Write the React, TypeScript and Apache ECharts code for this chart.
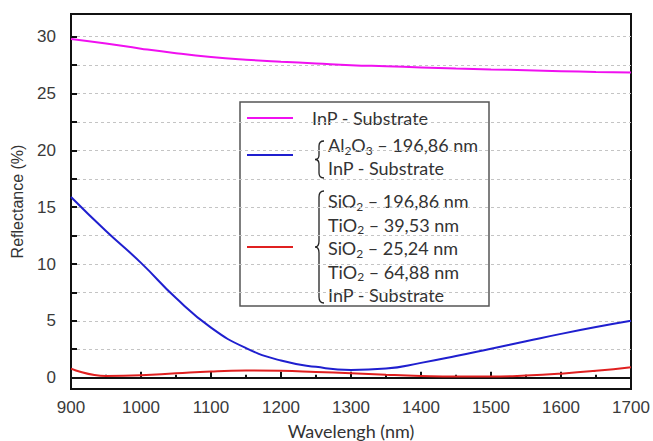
import React, { useEffect, useRef } from "react";
import * as echarts from "echarts";

const wavelengths = [900, 950, 1000, 1050, 1100, 1150, 1200, 1250, 1300, 1350, 1400, 1450, 1500, 1550, 1600, 1650, 1700];
const inpSubstrate = [29.8, 29.4, 28.95, 28.55, 28.22, 27.98, 27.8, 27.65, 27.5, 27.4, 27.3, 27.2, 27.12, 27.05, 26.97, 26.9, 26.85];
const al2o3Coating = [15.9, 12.9, 10.1, 7.0, 4.4, 2.6, 1.5, 0.95, 0.68, 0.8, 1.3, 1.9, 2.55, 3.2, 3.85, 4.45, 5.0];
const multiLayer = [0.8, 0.14, 0.2, 0.38, 0.55, 0.62, 0.6, 0.5, 0.38, 0.25, 0.15, 0.1, 0.1, 0.18, 0.35, 0.6, 0.92];

const yLabelValues = [0, 5, 10, 15, 20, 25, 30];
const yTickValues = [0, 2.5, 5, 7.5, 10, 12.5, 15, 17.5, 20, 22.5, 25, 27.5, 30];

const legendRed = ["SiO|2| – 196,86 nm", "TiO|2| – 39,53 nm", "SiO|2| – 25,24 nm", "TiO|2| – 64,88 nm", "InP - Substrate"];

const PINK = "#f010f0";
const BLUE = "#1f1fcf";
const RED = "#e02020";

const LEG_FONT = "Lato";
const AX_FONT = "'Liberation Sans', Arial, sans-serif";

function richText(s: string) {
  const parts = s.split("|");
  return parts
    .map((p, i) => (i % 2 === 1 ? `{s|${p}}` : p ? `{n|${p}}` : ""))
    .join("");
}

const rich = {
  n: { fontSize: 18, fontFamily: LEG_FONT, fill: "#333", lineHeight: 22 },
  s: { fontSize: 12, fontFamily: LEG_FONT, fill: "#333", lineHeight: 10, verticalAlign: "bottom" },
};

echarts.graphic.registerShape(
  "brace1",
  echarts.graphic.extendPath(
    "M 324 141 Q 319 141 319 146 L 319 155 Q 319 159.5 315 159.5 Q 319 159.5 319 164 L 319 173 Q 319 178 324 178",
    {}
  )
);
echarts.graphic.registerShape(
  "brace2",
  echarts.graphic.extendPath(
    "M 324 191 Q 319 191 319 197 L 319 241 Q 319 247 315 247 Q 319 247 319 253 L 319 297 Q 319 303 324 303",
    {}
  )
);

export default function App() {
  const ref = useRef<HTMLDivElement>(null);
  useEffect(() => {
    if (!ref.current) return;
    const chart = echarts.init(ref.current, null, { renderer: "svg" });
    const mk = (arr: number[]) => wavelengths.map((w, i) => [w, arr[i]]);
    const lineText = (text: string, x: number, y: number) => ({
      type: "text",
      x,
      y,
      style: {
        text: richText(text),
        rich,
        verticalAlign: "middle",
        align: "left",
      },
    });
    const option: any = {
      animation: false,
      backgroundColor: "#fff",
      grid: {
        left: 71,
        top: 14,
        right: 22,
        bottom: 52,
        show: true,
        borderColor: "#111",
        borderWidth: 2,
        outerBoundsMode: "none",
        containLabel: false,
      },
      xAxis: {
        type: "value",
        min: 900,
        max: 1700,
        interval: 100,
        name: "Wavelengh (nm)",
        nameLocation: "middle",
        nameGap: 33,
        nameTextStyle: { fontFamily: LEG_FONT, fontSize: 18, color: "#333" },
        axisLine: { lineStyle: { color: "#111", width: 2 } },
        axisTick: { inside: true, length: 6, lineStyle: { color: "#111", width: 2 } },
        minorTick: { show: true, splitNumber: 2, length: 3, lineStyle: { color: "#111", width: 2 } },
        axisLabel: {
          margin: 10,
          fontFamily: AX_FONT,
          fontSize: 17,
          color: "#3a3a3a",
          formatter: (v: number) => String(v),
        },
        splitLine: { show: false },
      },
      yAxis: {
        type: "value",
        min: -1,
        max: 32,
        name: "Reflectance (%)",
        nameLocation: "middle",
        nameGap: 46,
        nameTextStyle: { fontFamily: AX_FONT, fontSize: 16, color: "#333" },
        axisLine: { lineStyle: { color: "#111", width: 2 } },
        axisTick: {
          inside: true,
          length: 6,
          customValues: yTickValues,
          lineStyle: { color: "#111", width: 2 },
        },
        axisLabel: {
          margin: 15,
          customValues: yLabelValues,
          fontFamily: AX_FONT,
          fontSize: 17,
          color: "#3a3a3a",
          formatter: (v: number) => String(v),
        },
        splitLine: { show: true, lineStyle: { color: "#c4c4c4", width: 1, type: [3, 3] } },
      },
      series: [
        { type: "line", data: mk(inpSubstrate), smooth: 0.5, showSymbol: false, lineStyle: { color: PINK, width: 2 } },
        { type: "line", data: mk(al2o3Coating), smooth: 0.5, showSymbol: false, lineStyle: { color: BLUE, width: 2 } },
        { type: "line", data: mk(multiLayer), smooth: 0.5, showSymbol: false, lineStyle: { color: RED, width: 2 } },
      ],
      graphic: [
        {
          type: "group",
          z: 100,
          children: [
            { type: "rect", shape: { x: 240, y: 102, width: 249, height: 204 }, style: { fill: "#fff", stroke: "#555", lineWidth: 1.5 } },
            { type: "line", shape: { x1: 247, y1: 118, x2: 293, y2: 118 }, style: { stroke: PINK, lineWidth: 2 } },
            { type: "line", shape: { x1: 247, y1: 155, x2: 293, y2: 155 }, style: { stroke: BLUE, lineWidth: 2 } },
            { type: "line", shape: { x1: 247, y1: 247, x2: 293, y2: 247 }, style: { stroke: RED, lineWidth: 2 } },
            lineText("InP - Substrate", 312, 118),
            lineText("Al|2|O|3| – 196,86 nm", 328, 145),
            lineText("InP - Substrate", 328, 168),
            ...legendRed.map((t, i) => lineText(t, 328, 201 + i * 23.5)),
            { type: "brace1", x: 0, y: 0, style: { fill: "none", stroke: "#222", lineWidth: 1.3 } },
            { type: "brace2", x: 0, y: 0, style: { fill: "none", stroke: "#222", lineWidth: 1.3 } },
          ],
        },
      ],
    };
    chart.setOption(option);
    return () => chart.dispose();
  }, []);
  return (
    <div
      ref={ref}
      style={{ position: "absolute", left: 0, top: 0, width: 653, height: 441, background: "#fff" }}
    />
  );
}
